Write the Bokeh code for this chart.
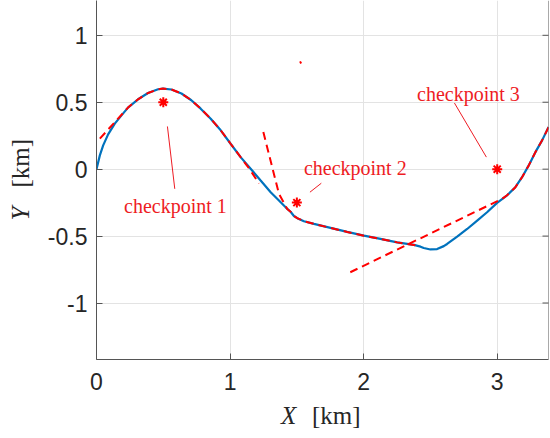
from bokeh.plotting import figure
from bokeh.models import Range1d, FixedTicker, Span
from bokeh.layouts import row, column
from bokeh.core.properties import value
from bokeh.embed import file_html
from bokeh.resources import INLINE

# ---- data ----
path_x = [0.0, 0.025, 0.05, 0.087, 0.137, 0.187, 0.236, 0.311, 0.386, 0.461, 0.498, 0.561,
          0.636, 0.71, 0.78, 0.855, 0.93, 1.004, 1.079, 1.154, 1.229, 1.304, 1.366, 1.416,
          1.453, 1.478, 1.503, 1.553, 1.628, 1.752, 1.877, 2.002, 2.126, 2.251, 2.376, 2.426,
          2.45, 2.5, 2.55, 2.6, 2.625, 2.7, 2.775, 2.85, 2.924, 2.999, 3.074, 3.136, 3.186,
          3.236, 3.286, 3.336, 3.385]
path_y = [0.0, 0.103, 0.178, 0.26, 0.34, 0.402, 0.46, 0.522, 0.569, 0.597, 0.602, 0.595,
          0.565, 0.515, 0.452, 0.377, 0.29, 0.19, 0.09, 0.003, -0.085, -0.172, -0.234, -0.285,
          -0.318, -0.35, -0.366, -0.389, -0.409, -0.439, -0.469, -0.497, -0.521, -0.547, -0.566, -0.579,
          -0.589, -0.6, -0.597, -0.575, -0.559, -0.504, -0.447, -0.384, -0.322, -0.252, -0.195, -0.135, -0.06,
          0.028, 0.127, 0.215, 0.315]

pred1_x = [0.025, 0.236, 0.311, 0.386, 0.461, 0.498, 0.561, 0.636, 0.71, 0.78, 0.855, 0.93,
           1.004, 1.079, 1.15, 1.216]
pred1_y = [0.228, 0.46, 0.522, 0.569, 0.597, 0.602, 0.595, 0.565, 0.515, 0.452, 0.377, 0.29,
           0.19, 0.09, -0.005, -0.107]

pred2_x = [1.249, 1.366, 1.428, 1.453, 1.478, 1.503, 1.553, 1.628, 1.752, 1.877, 2.002,
           2.126, 2.251, 2.376, 2.41]
pred2_y = [0.277, -0.184, -0.297, -0.318, -0.35, -0.366, -0.389, -0.409, -0.439, -0.469, -0.497,
           -0.521, -0.547, -0.566, -0.575]

pred3_x = [1.90, 3.036, 3.074, 3.136, 3.186, 3.236, 3.286, 3.336, 3.385]
pred3_y = [-0.77, -0.222, -0.195, -0.135, -0.06, 0.028, 0.127, 0.215, 0.315]

frag_x = [1.524, 1.532]
frag_y = [0.805, 0.79]

check_x = [0.5, 1.5, 3.0]
check_y = [0.5, -0.25, 0.0]
check_names = ["checkpoint 1", "checkpoint 2", "checkpoint 3"]
label_x = [0.206, 1.553, 2.40]
label_y = [-0.275, 0.011, 0.565]
lead_x0 = [0.531, 1.598, 2.68]
lead_y0 = [0.319, -0.172, 0.494]
lead_x1 = [0.586, 1.683, 2.919]
lead_y1 = [-0.147, -0.105, 0.09]

x_min, x_max = 0.0, 3.384
y_min, y_max = -1.422, 1.260
x_ticks = [0, 1, 2, 3]
x_tick_labels = ["0", "1", "2", "3"]
y_ticks = [-1, -0.5, 0, 0.5, 1]
y_tick_labels = ["-1", "-0.5", "0", "0.5", "1"]

BLUE = "#0072BD"
RED = "#FF0000"
TXT = "#EE1C24"
AXC = "#555555"
LBL = "#262626"
SERIF = "Liberation Serif"

# ---- main axes ----
p = figure(width=506, height=400, output_backend="svg", toolbar_location=None,
           x_range=Range1d(x_min, x_max), y_range=Range1d(y_min, y_max),
           min_border_left=51, min_border_right=2, min_border_top=0, min_border_bottom=41)
p.outline_line_color = None

for ax in (p.xaxis[0], p.yaxis[0]):
    ax.major_tick_in = 6
    ax.major_tick_out = 0
    ax.minor_tick_line_color = None
    ax.axis_line_color = AXC
    ax.major_tick_line_color = AXC
    ax.major_label_text_font = "Liberation Sans"
    ax.major_label_text_font_size = "23px"
    ax.major_label_text_color = LBL

p.xaxis.ticker = FixedTicker(ticks=x_ticks)
p.yaxis.ticker = FixedTicker(ticks=y_ticks)
p.xaxis.major_label_overrides = {t: l for t, l in zip(x_ticks, x_tick_labels)}
p.yaxis.major_label_overrides = {t: l for t, l in zip(y_ticks, y_tick_labels)}
p.xaxis.major_label_standoff = 13
p.yaxis.major_label_standoff = 9

p.xgrid.grid_line_color = "#e3e3e3"
p.ygrid.grid_line_color = "#e3e3e3"
p.xgrid.ticker = FixedTicker(ticks=x_ticks)
p.ygrid.ticker = FixedTicker(ticks=y_ticks)

# right-hand box edge with inward ticks
p.add_layout(Span(location=x_max, dimension="height", line_color=AXC, line_width=1))
p.scatter([x_max] * len(y_ticks), y_ticks, marker="dash", size=12, line_color=AXC, line_width=1)

p.line(path_x, path_y, line_color=BLUE, line_width=2.2)
for xs, ys in ((pred1_x, pred1_y), (pred2_x, pred2_y), (pred3_x, pred3_y), (frag_x, frag_y)):
    p.line(xs, ys, line_color=RED, line_width=2, line_dash="8 5")

p.segment(lead_x0, lead_y0, lead_x1, lead_y1, line_color=TXT, line_width=1)
p.scatter(check_x, check_y, marker="asterisk", size=10, line_color=RED, line_width=2)
p.text(label_x, label_y, text=check_names, text_font=value(SERIF),
       text_font_size="20px", text_color=TXT, text_baseline="alphabetic", text_align="left")

# ---- axis titles: italic variable + upright unit, drawn in pixel-unit strips ----
XW, XH = 506, 38
xlab = figure(width=XW, height=XH, output_backend="svg", toolbar_location=None,
              x_range=Range1d(0, 453), y_range=Range1d(0, XH),
              x_axis_type=None, y_axis_type=None,
              min_border_left=51, min_border_right=2, min_border_top=0, min_border_bottom=0)
xlab.outline_line_color = None
xlab.grid.visible = False
xlab.text([185], [23], text=["X"], text_font=value(SERIF), text_font_style="italic",
          text_font_size="25px", text_color=LBL, text_baseline="alphabetic")
xlab.text([216], [23], text=["[km]"], text_font=value(SERIF),
          text_font_size="25px", text_color=LBL, text_baseline="alphabetic")

YW, YH = 44, 438
ylab = figure(width=YW, height=YH, output_backend="svg", toolbar_location=None,
              x_range=Range1d(0, YW), y_range=Range1d(0, YH),
              x_axis_type=None, y_axis_type=None, min_border=0)
ylab.outline_line_color = None
ylab.grid.visible = False
ylab.text([20], [218], text=["Y"], angle=1.5708, text_font=value(SERIF), text_font_style="italic",
          text_font_size="25px", text_color=LBL, text_baseline="alphabetic")
ylab.text([20], [251], text=["[km]"], angle=1.5708, text_font=value(SERIF),
          text_font_size="25px", text_color=LBL, text_baseline="alphabetic")

layout = row(ylab, column(p, xlab))
open("out.html", "w").write(file_html(layout, INLINE))
